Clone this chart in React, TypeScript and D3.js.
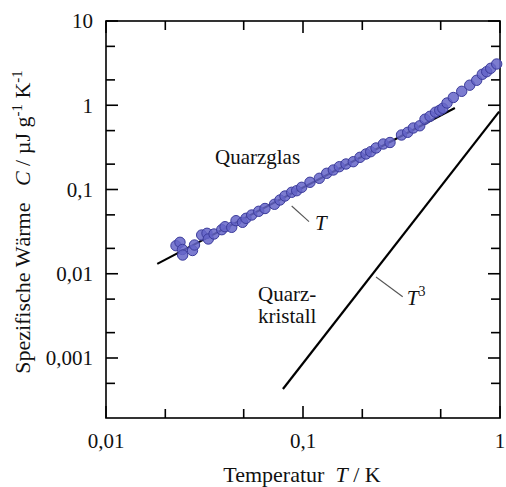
import React from "react";
import * as d3 from "d3";

// Quarzglas measurement points: temperature T (K) and specific heat C (µJ g^-1 K^-1)
const glassT = [
  0.02266, 0.02374, 0.02444, 0.0245, 0.02748, 0.02813, 0.0306, 0.03256, 0.03306, 0.03534,
  0.03868, 0.0402, 0.04346, 0.0457, 0.0493, 0.05136, 0.0549, 0.05959, 0.06414, 0.07165,
  0.07638, 0.08098, 0.0876, 0.0929, 0.09849, 0.1085, 0.121, 0.1319, 0.1425, 0.1529,
  0.1653, 0.18, 0.1947, 0.2088, 0.2207, 0.2348, 0.2557, 0.2765, 0.3162, 0.34,
  0.363, 0.3913, 0.4162, 0.4412, 0.4707, 0.4943, 0.5125, 0.5383, 0.5794, 0.6392,
  0.7018, 0.7615, 0.8131, 0.856, 0.897, 0.962,
];
const glassC = [
  0.02153, 0.02362, 0.01941, 0.01669, 0.01888, 0.02194, 0.02884, 0.0302, 0.02586, 0.02963,
  0.03333, 0.03618, 0.03558, 0.04263, 0.0408, 0.04552, 0.04982, 0.05511, 0.0595, 0.06674,
  0.07506, 0.08372, 0.09265, 0.09678, 0.1062, 0.1218, 0.1358, 0.1557, 0.1704, 0.1865,
  0.2008, 0.2138, 0.2411, 0.2639, 0.281, 0.311, 0.3467, 0.3613, 0.4435, 0.4773,
  0.537, 0.5703, 0.6832, 0.7393, 0.8271, 0.8711, 0.9201, 1.063, 1.236, 1.464,
  1.73, 1.978, 2.33, 2.502, 2.745, 3.087,
];

// Fitted lines (endpoints)
const linearT = [0.0182, 0.59];
const linearC = [0.0131, 0.927];
const cubicT = [0.0791, 0.99];
const cubicC = [0.000428, 0.84];

// Leader lines and labels
const leaderLinT = [0.0876, 0.1073];
const leaderLinC = [0.0637, 0.0415];
const leaderCubT = [0.2348, 0.3207];
const leaderCubC = [0.00915, 0.00534];

const xMajor = [0.01, 0.1, 1];
const xMajorLabels = ["0,01", "0,1", "1"];
const xMinor = [0.02, 0.05, 0.2, 0.5];
const yMajor = [0.001, 0.01, 0.1, 1, 10];
const yMajorLabels = ["0,001", "0,01", "0,1", "1", "10"];
const yMinor = [0.0005, 0.002, 0.005, 0.02, 0.05, 0.2, 0.5, 2, 5];

const W = 506;
const H = 487;
const FONT = "'Liberation Serif', 'Times New Roman', serif";

export default function App() {
  const x = d3.scaleLog().domain([0.01, 1]).range([106, 500]);
  const y = d3.scaleLog().domain([1.94e-4, 10]).range([418, 21]);
  const [x0, x1] = x.range();
  const [y0, y1] = y.range();
  const majLen = 12;
  const minLen = 9;
  const line = d3
    .line<[number, number]>()
    .x((d) => x(d[0]))
    .y((d) => y(d[1]));

  const pts = glassT.map((t, i) => [t, glassC[i]] as [number, number]);

  return (
    <svg
      width={W}
      height={H}
      style={{ position: "absolute", left: 0, top: 0, background: "#fff" }}
      fontFamily={FONT}
    >
      {/* frame */}
      <rect x={x0} y={y1} width={x1 - x0} height={y0 - y1} fill="none" stroke="#000" strokeWidth={1.6} />
      {/* x ticks (bottom & top) */}
      {xMajor.map((v) => (
        <g key={"xm" + v}>
          <line x1={x(v)} x2={x(v)} y1={y0} y2={y0 - majLen} stroke="#000" strokeWidth={1.6} />
          <line x1={x(v)} x2={x(v)} y1={y1} y2={y1 + majLen} stroke="#000" strokeWidth={1.6} />
        </g>
      ))}
      {xMinor.map((v) => (
        <g key={"xn" + v}>
          <line x1={x(v)} x2={x(v)} y1={y0} y2={y0 - minLen} stroke="#000" strokeWidth={1.6} />
          <line x1={x(v)} x2={x(v)} y1={y1} y2={y1 + minLen} stroke="#000" strokeWidth={1.6} />
        </g>
      ))}
      {/* y ticks (left & right) */}
      {yMajor.map((v) => (
        <g key={"ym" + v}>
          <line x1={x0} x2={x0 + majLen} y1={y(v)} y2={y(v)} stroke="#000" strokeWidth={1.6} />
          <line x1={x1} x2={x1 - majLen} y1={y(v)} y2={y(v)} stroke="#000" strokeWidth={1.6} />
        </g>
      ))}
      {yMinor.map((v) => (
        <g key={"yn" + v}>
          <line x1={x0} x2={x0 + minLen} y1={y(v)} y2={y(v)} stroke="#000" strokeWidth={1.6} />
          <line x1={x1} x2={x1 - minLen} y1={y(v)} y2={y(v)} stroke="#000" strokeWidth={1.6} />
        </g>
      ))}
      {/* tick labels */}
      {xMajor.map((v, i) => (
        <text key={"xl" + v} x={x(v)} y={448} textAnchor="middle" fontSize={21} fill="#111">
          {xMajorLabels[i]}
        </text>
      ))}
      {yMajor.map((v, i) => (
        <text key={"yl" + v} x={93} y={y(v)} dy="0.35em" textAnchor="end" fontSize={21} fill="#111">
          {yMajorLabels[i]}
        </text>
      ))}
      {/* axis titles */}
      <text x={302} y={482} textAnchor="middle" fontSize={22} fill="#111" xmlSpace="preserve">
        Temperatur{"  "}<tspan fontStyle="italic">T</tspan> / K
      </text>
      <text
        transform={`translate(29.5, 222) rotate(-90)`}
        textAnchor="middle"
        fontSize={22}
        fill="#111"
        xmlSpace="preserve"
      >
        Spezifische Wärme{"   "}<tspan fontStyle="italic">C</tspan> / µJ g<tspan dy={-8} fontSize={15}>-1</tspan>
        <tspan dy={8}> K</tspan>
        <tspan dy={-8} fontSize={15}>-1</tspan>
      </text>

      {/* fit lines */}
      <path d={line(linearT.map((t, i) => [t, linearC[i]]) as any) || ""} stroke="#000" strokeWidth={2.2} fill="none" />
      <path d={line(cubicT.map((t, i) => [t, cubicC[i]]) as any) || ""} stroke="#000" strokeWidth={2.2} fill="none" />

      {/* data points */}
      {pts.map((p, i) => (
        <circle
          key={i}
          cx={x(p[0])}
          cy={y(p[1])}
          r={5.2}
          fill="#6565c8"
          fillOpacity={0.85}
          stroke="#3c3c9c"
          strokeWidth={1}
        />
      ))}

      {/* leader lines */}
      <path d={line(leaderLinT.map((t, i) => [t, leaderLinC[i]]) as any) || ""} stroke="#555" strokeWidth={1.1} fill="none" />
      <path d={line(leaderCubT.map((t, i) => [t, leaderCubC[i]]) as any) || ""} stroke="#555" strokeWidth={1.1} fill="none" />

      {/* annotations */}
      <text x={x(0.1151)} y={y(0.0331)} fontSize={21} fontStyle="italic" fill="#111">T</text>
      <text x={x(0.336)} y={y(0.00426)} fontSize={21} fill="#111">
        <tspan fontStyle="italic">T</tspan>
        <tspan dy={-9} fontSize={14}>3</tspan>
      </text>
      <text x={x(0.03575)} y={y(0.2008)} fontSize={21} fill="#111">Quarzglas</text>
      <text x={x(0.0591)} y={y(0.00479)} fontSize={21} fill="#111">Quarz-</text>
      <text x={x(0.0591)} y={y(0.0026)} fontSize={21} fill="#111">kristall</text>
    </svg>
  );
}
